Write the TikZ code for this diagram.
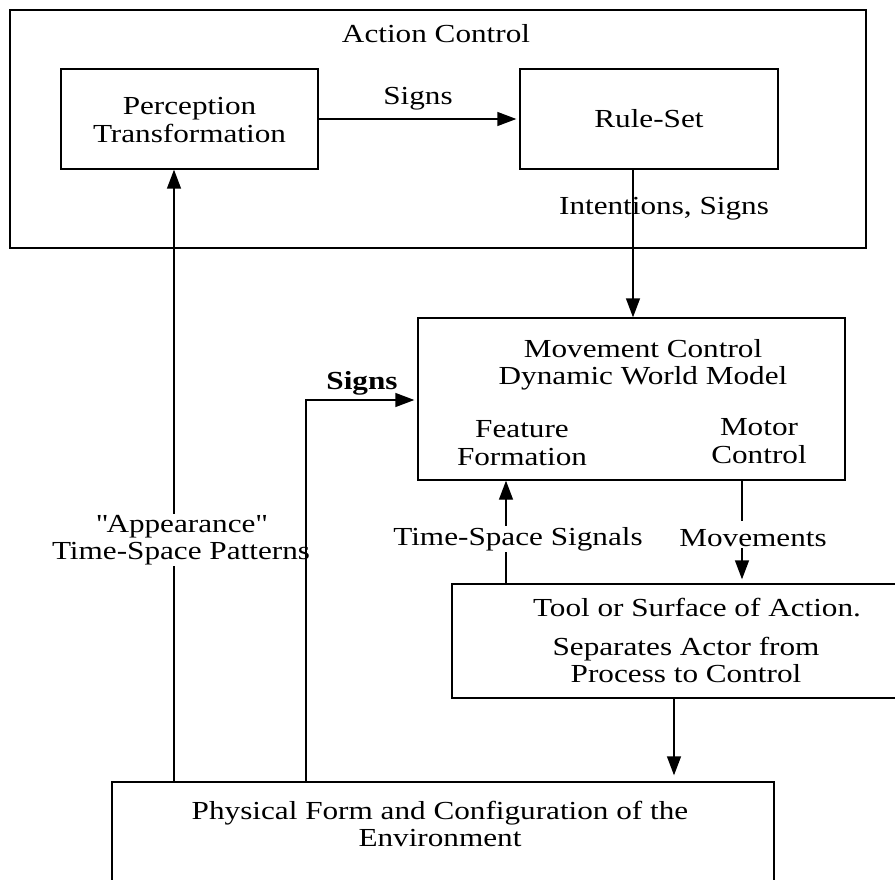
\documentclass[tikz,border=0pt]{standalone}
\usepackage{fontspec}
\setmainfont[FakeStretch=1.2]{Liberation Serif}
\usetikzlibrary{arrows.meta,calc}
\tikzset{
  box/.style={draw, line width=1.4pt, rectangle, inner sep=0pt},
  txt/.style={align=center, inner sep=1pt, font=\fontsize{26}{27.5}\selectfont},
  lbl/.style={txt, fill=white},
  arr/.style={line width=1.4pt, -{Triangle[length=19pt,width=14pt]}},
  ln/.style={line width=1.4pt}
}
\begin{document}
\begin{tikzpicture}[x=1pt,y=-1pt]
\useasboundingbox (0,0) rectangle (895,880);
\clip (0,0) rectangle (895,880);
\fill[white] (0,0) rectangle (895,880);

% boxes
\node[box, minimum width=856pt, minimum height=238pt] (ac) at (438,129) {};
\node[txt] (actitle) at (436,34) {Action Control};
\node[box, minimum width=257pt, minimum height=100pt] (perc) at (189.5,119) {};
\node[txt] (perctext) at (189.5,120) {Perception\\Transformation};
\node[box, txt, minimum width=258pt, minimum height=100pt] (rule) at (649,119) {Rule-Set};

\node[box, minimum width=427pt, minimum height=162pt] (mv) at (631.5,399) {};
\node[txt] (mvtitle) at (643,365) {Movement Control\\Dynamic World Model};
\node[txt] (feat) at (522,443) {Feature\\Formation};
\node[txt] (motor) at (759,441) {Motor\\Control};

\node[box, minimum width=478pt, minimum height=114pt] (tool) at (691,641) {};
\node[txt] (tool1) at (697,608) {Tool or Surface of Action.};
\node[txt] (tool2) at (686,660) {Separates Actor from\\Process to Control};

\node[box, minimum width=662pt, minimum height=168pt] (phys) at (443,866) {};
\node[txt] (phystext) at (440,824) {Physical Form and Configuration of the\\Environment};

% helper coordinates
\coordinate (xa) at (174,0);
\coordinate (xs) at (306,0);
\coordinate (ys) at (0,400);
\coordinate (xr) at (633,0);
\coordinate (xt) at (506,0);
\coordinate (xm) at (742,0);
\coordinate (xp) at (674,0);

% connectors
\draw[arr, shorten >=3pt] (perc.east) -- (rule.west);
\node[txt] (signs1) at (418,99) {Signs};

\draw[arr] (rule.south -| xr) -- (mv.north -| xr);
\node[txt] (intent) at (664,209) {Intentions, Signs};
\draw[ln] (rule.south -| xr) -- ($(rule.south -| xr)+(0,60)$);

\draw[arr] (phys.north -| xa) -- (perc.south -| xa);
\node[lbl] (appear) at (181,540) {\textquotedbl Appearance\textquotedbl\\Time-Space Patterns};

\draw[arr, shorten >=3pt] (phys.north -| xs) |- (mv.west |- ys);
\node[txt, font=\fontsize{26}{27.5}\selectfont\bfseries] (signs2) at (362,383) {Signs};

\draw[arr] (tool.north -| xt) -- (mv.south -| xt);
\node[lbl] (tss) at (518,539) {Time-Space Signals};

\draw[ln] (mv.south -| xm) -- ($(mv.south -| xm)+(0,40)$);
\node[lbl] (mvmts) at (753,538) {Movements};
\draw[arr, shorten >=4pt] ($(mvmts.south -| xm)$) -- (tool.north -| xm);

\draw[arr, shorten >=6pt] (tool.south -| xp) -- (phys.north -| xp);
\end{tikzpicture}
\end{document}
